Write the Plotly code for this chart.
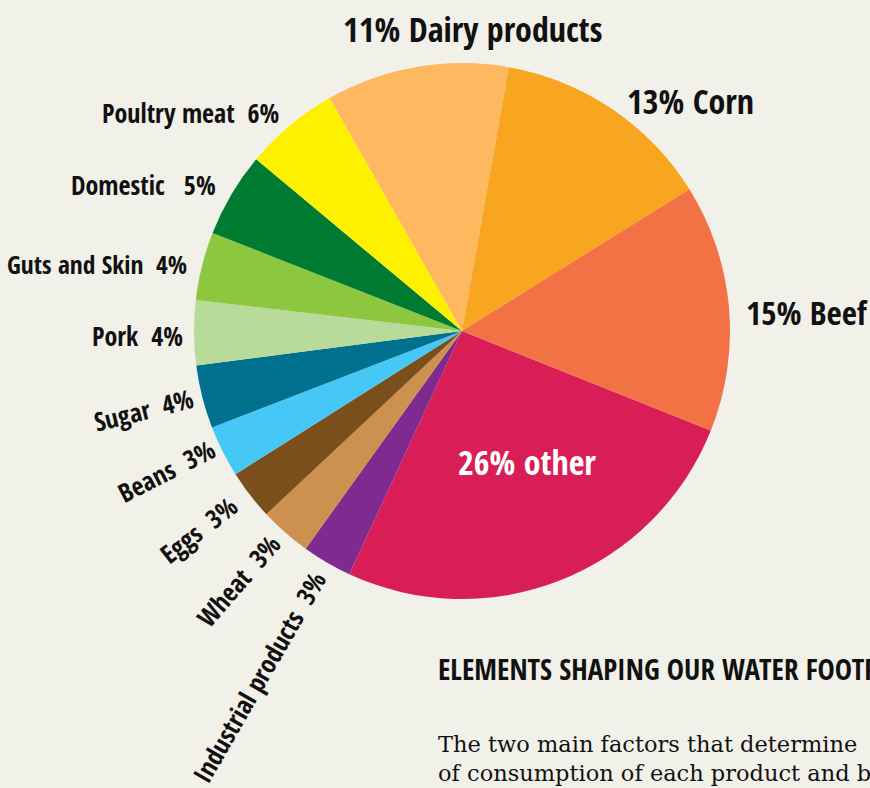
import plotly.graph_objects as go

# ---- data ----
categories = ["other", "Industrial products", "Wheat", "Eggs", "Beans", "Sugar", "Pork",
              "Guts and Skin", "Domestic", "Poultry meat", "Dairy products", "Corn", "Beef"]
label_pct = [26, 3, 3, 3, 3, 4, 4, 4, 5, 6, 11, 13, 15]
# slice shares as drawn
slice_share = [25.8, 3.0, 3.1, 3.0, 3.1, 3.8, 3.9, 4.1, 5.1, 5.7, 11.0, 13.3, 14.9]
colors = ["#D91E57", "#7F2A8F", "#CD914F", "#7A4F1C", "#45C8F5", "#00708F", "#B8DB9A",
          "#8DC63F", "#007B32", "#FEF100", "#FDB860", "#F8A51F", "#F27245"]
title_text = "ELEMENTS SHAPING OUR WATER FOOTPRINT"
body_lines = ["The two main factors that determine", "of consumption of each product and b)"]

W, H = 870, 788
BG = "#F2F1E9"
COND = "Open Sans Condensed, Roboto Condensed, DejaVu Sans Condensed, sans-serif"


def px(x):
    return x / W


def py(y):
    return 1 - y / H


cx, cy, R = 462, 331, 268

fig = go.Figure(go.Pie(
    labels=categories,
    values=slice_share,
    marker=dict(colors=colors, line=dict(width=0)),
    sort=False,
    direction="clockwise",
    rotation=111.8,
    textinfo="none",
    hoverinfo="label",
    showlegend=False,
    domain=dict(x=[px(cx - R), px(cx + R)], y=[py(cy + R), py(cy - R)]),
))

lab = {c: f"{p}%" for c, p in zip(categories, label_pct)}

ann = []


def add(text, x, y, size, xanchor="center", angle=0, color="#111111", family=COND, bold=True):
    ann.append(dict(
        text=f"<b>{text}</b>" if bold else text,
        x=px(x), y=py(y), xref="paper", yref="paper",
        xanchor=xanchor, yanchor="middle", textangle=angle,
        showarrow=False, font=dict(family=family, size=size, color=color),
    ))


big = 34
add(f"{lab['Dairy products']} Dairy products", 472, 29, big)
add(f"{lab['Corn']} Corn", 690, 101, big)
add(f"{lab['Beef']} Beef", 744, 312, 33, xanchor="left")
add(f"{lab['other']} other", 527, 462, big, color="white")

sm = 26
add(f"Poultry meat  {lab['Poultry meat']}", 281, 113, sm, xanchor="right")
add(f"Domestic   {lab['Domestic']}", 218, 185, sm, xanchor="right")
add(f"Guts and Skin  {lab['Guts and Skin']}", 189, 264, 25.5, xanchor="right")
add(f"Pork  {lab['Pork']}", 185, 336, sm, xanchor="right")
add(f"Sugar  {lab['Sugar']}", 143, 410, sm, angle=-14)
add(f"Beans  {lab['Beans']}", 166, 471, sm, angle=-27)
add(f"Eggs  {lab['Eggs']}", 198, 530, sm, angle=-38)
add(f"Wheat  {lab['Wheat']}", 238, 581, sm, angle=-49)
add(f"Industrial products  {lab['Industrial products']}", 259, 677, sm, angle=-60)

ann.append(dict(
    text=f"<b>{title_text}</b>",
    x=px(436), y=py(668), xref="paper", yref="paper", xanchor="left", yanchor="middle",
    showarrow=False, font=dict(family=COND, size=29, color="#111111"),
))
ann.append(dict(
    text="<br>".join(body_lines),
    x=px(436), y=py(758), xref="paper", yref="paper", xanchor="left", yanchor="middle",
    align="left", showarrow=False,
    font=dict(family="DejaVu Serif, Georgia, serif", size=22.5, color="#111111"),
))

fig.update_layout(
    width=W, height=H,
    margin=dict(l=0, r=0, t=0, b=0),
    paper_bgcolor=BG, plot_bgcolor=BG,
    annotations=ann,
)

fig.write_html(
    "out.html",
    config={"displayModeBar": False},
    post_script="document.body.style.margin='0';document.body.style.overflow='hidden';"
                "document.body.style.background='%s';" % BG,
)
